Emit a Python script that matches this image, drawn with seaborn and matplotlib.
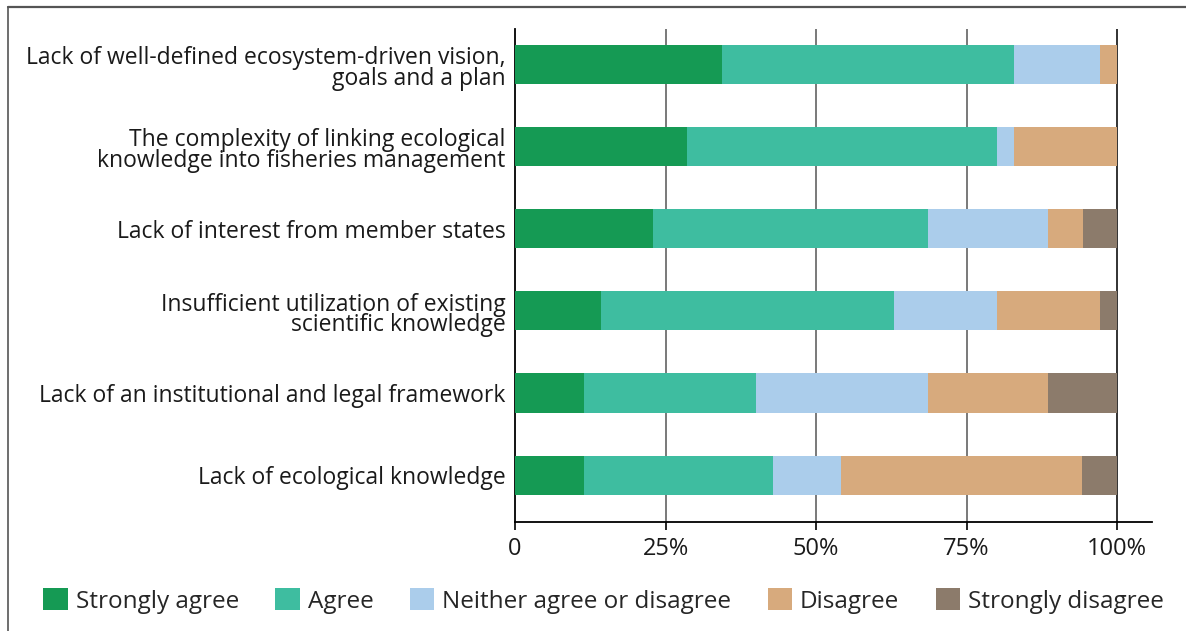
import numpy as np
import pandas as pd
import matplotlib
matplotlib.use("Agg")
import matplotlib.pyplot as plt
import matplotlib.transforms as mtransforms
from matplotlib.patches import Patch
import seaborn as sns

categories = [
    "Lack of well-defined ecosystem-driven vision,\ngoals and a plan",
    "The complexity of linking ecological\nknowledge into fisheries management",
    "Lack of interest from member states",
    "Insufficient utilization of existing\nscientific knowledge",
    "Lack of an institutional and legal framework",
    "Lack of ecological knowledge",
]
responses = ["Strongly agree", "Agree", "Neither agree or disagree",
             "Disagree", "Strongly disagree"]

strongly_agree = [34.3, 28.6, 22.9, 14.3, 11.4, 11.4]
agree = [48.6, 51.4, 45.7, 48.6, 28.6, 31.4]
neither = [14.3, 2.9, 20.0, 17.1, 28.6, 11.4]
disagree = [2.8, 17.1, 5.7, 17.1, 20.0, 40.0]
strongly_disagree = [0.0, 0.0, 5.7, 2.9, 11.4, 5.8]

colors = ["#159a54", "#3ebda0", "#abcdeb", "#d7aa7d", "#8c7b6b"]
tick_values = [0, 25, 50, 75, 100]
tick_labels = ["0", "25%", "50%", "75%", "100%"]

sns.set_theme(style="white")
plt.rcParams["font.family"] = ["Open Sans", "DejaVu Sans"]

series = np.array([strongly_agree, agree, neither, disagree, strongly_disagree])
cumulative = np.cumsum(series, axis=0)

fig = plt.figure(figsize=(11.86, 6.31), dpi=100)
ax = fig.add_axes([515 / 1186, 1 - 522 / 631, (1152 - 515) / 1186, (522 - 29) / 631])

# stacked bars: draw the widest cumulative layer first, then cover it
for i in range(len(responses) - 1, -1, -1):
    df = pd.DataFrame({"category": categories, "value": cumulative[i]})
    sns.barplot(data=df, x="value", y="category", orient="h",
                color=colors[i], width=0.475, saturation=1,
                linewidth=0, ax=ax, zorder=3)

ax.set_xlim(0, 105.8)
ax.set_ylim(5.57, -0.43)
ax.set_xlabel("")
ax.set_ylabel("")
ax.set_xticks(tick_values)
ax.set_xticklabels(tick_labels, fontsize=17, color="#1a1a1a")
ax.set_yticks(range(len(categories)))
ax.set_yticklabels(categories, fontsize=16.5, color="#1a1a1a", linespacing=0.8)
ax.tick_params(axis="x", length=6, width=1.2, color="black", direction="out",
               bottom=True, pad=5)
ax.tick_params(axis="y", length=0, pad=7)

# nudge the two-line labels slightly downward
shift = mtransforms.ScaledTranslation(0, -3 / 100, fig.dpi_scale_trans)
for lbl in ax.get_yticklabels():
    if "\n" in lbl.get_text():
        lbl.set_transform(lbl.get_transform() + shift)

for v in tick_values[1:-1]:
    ax.axvline(v, color="#6e6e6e", linewidth=1.3, zorder=1)
ax.axvline(100, color="#222222", linewidth=1.3, zorder=1)

for side in ["top", "right"]:
    ax.spines[side].set_visible(False)
ax.spines["left"].set_color("black")
ax.spines["left"].set_linewidth(1.3)
ax.spines["bottom"].set_color("black")
ax.spines["bottom"].set_linewidth(1.3)

# outer frame on the top and left edges
fig.add_artist(plt.Line2D([8 / 1186, 1], [1 - 7 / 631, 1 - 7 / 631],
                          transform=fig.transFigure, color="#555555", linewidth=1.6))
fig.add_artist(plt.Line2D([8 / 1186, 8 / 1186], [0, 1 - 7 / 631],
                          transform=fig.transFigure, color="#555555", linewidth=1.2))

handles = [Patch(facecolor=c, edgecolor="none") for c in colors]
fig.legend(handles, responses, loc="center", bbox_to_anchor=(0.509, 1 - 601 / 631),
           ncol=5, frameon=False, fontsize=17.5, handlelength=1.0, handleheight=1.0,
           handletextpad=0.33, columnspacing=1.5)

fig.savefig("out.png", dpi=100)
